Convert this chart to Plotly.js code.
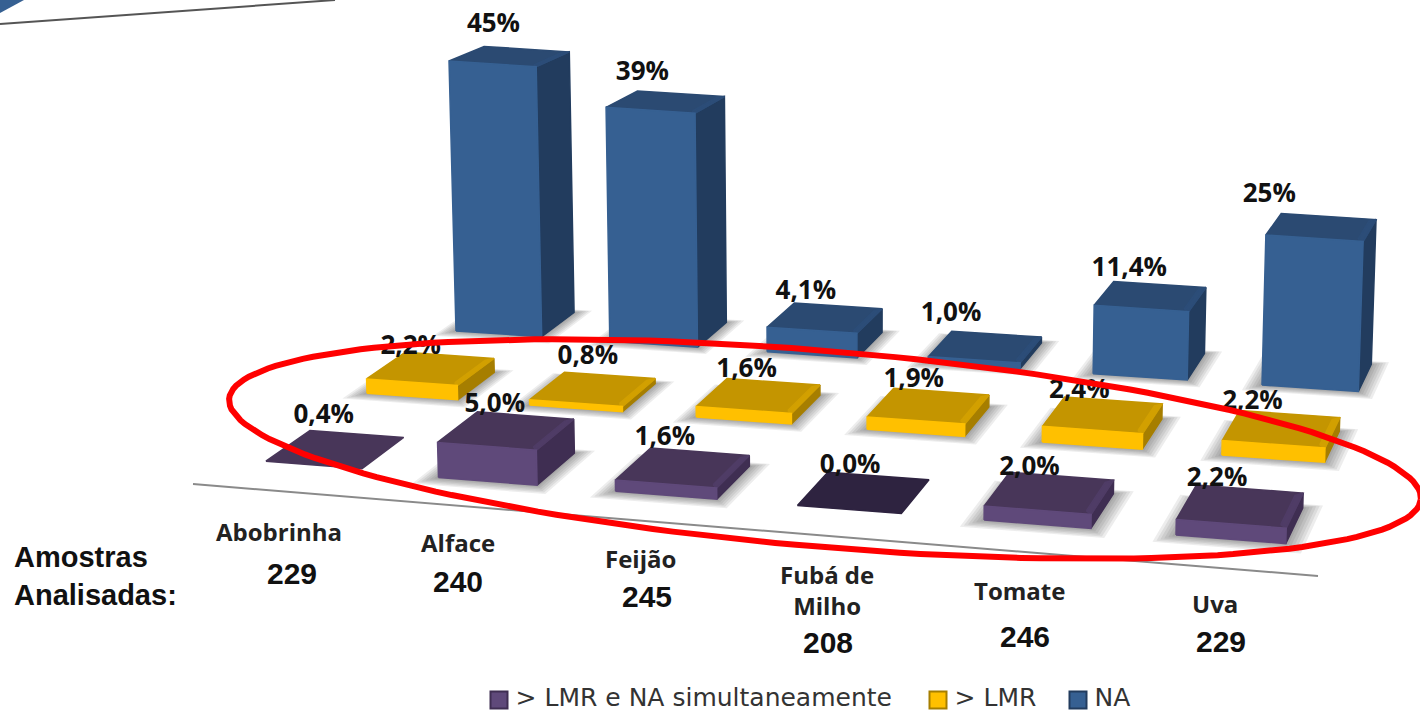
<!DOCTYPE html>
<html><head><meta charset="utf-8">
<script src="https://cdn.plot.ly/plotly-3.0.1.min.js"></script>
<style>html,body{margin:0;padding:0;background:#fff}</style></head>
<body><div id="chart" style="width:1420px;height:712px"></div>
<script>
// ---- data ----
const categories = ['Abobrinha','Alface','Feijão','Fubá de<br>Milho','Tomate','Uva'];
const samples = [229,240,245,208,246,229];
const seriesNames = ['> LMR e NA simultaneamente','> LMR','NA'];
const valuesBoth = [0.4,5.0,1.6,0.0,2.0,2.2];
const valuesLMR = [2.2,0.8,1.6,1.9,2.4,2.2];
const valuesNA = [45,39,4.1,1.0,11.4,25];

// ---- styles and layout ----
const styles = [
  {front:'#5F497A',top:'#483659',side:'#3F2E52',zero:'#2E2340',rim:'#4F3C66',swatch:'#5F497A'},
  {front:'#FFC000',top:'#C49500',side:'#A67E00',zero:'#C49500',rim:'#D2A000',swatch:'#FFC000'},
  {front:'#366092',top:'#2B4A72',side:'#223C5E',zero:'#2B4A72',rim:'#2C4D78',swatch:'#366092'}
];
const seriesValues = [valuesBoth,valuesLMR,valuesNA];
const ground = [[266,464],[1176,535],[1262,385],[456,331]]; // plane corners: col0/row0, col5/row0, col5/row2, col0/row2
const BAR_W = 0.56, BAR_D = 0.42;
const catLabelX = [279,458,640,827,1019,1215], catLabelY = [531,542,558,590,590,603];
const sampleX = [292,458,647,828,1025,1221], sampleY = [573,581,596,642,636,641];
const labelNudgeX = [[6,4,-5,-3,-12,-18],[-5,8,-1,-6,-17,-25],[-3,-12,-10,-27,-16,-49]];
const labelNudgeY = [[0,7,4,7,9,7],[9,-1,6,6,8,5],[-7,-3,4,-3,2,-4]];
const legendX = [499,938,1078], legendY = 700;

// ground-plane projection (unit square -> quad)
const H = (()=>{
  const [[x0,y0],[x1,y1],[x2,y2],[x3,y3]] = ground;
  const dx1=x1-x2,dx2=x3-x2,sx=x0-x1+x2-x3,dy1=y1-y2,dy2=y3-y2,sy=y0-y1+y2-y3;
  const den=dx1*dy2-dx2*dy1;
  const g=(sx*dy2-dx2*sy)/den,h=(dx1*sy-sx*dy1)/den;
  return {a:x1-x0+g*x1,b:x3-x0+h*x3,c:x0,d:y1-y0+g*y1,e:y3-y0+h*y3,f:y0,g,h};
})();
function project(u,v,val){
  const s=u/5,t=v/2,w=H.g*s+H.h*t+1;
  const x=(H.a*s+H.b*t+H.c)/w, y=(H.d*s+H.e*t+H.f)/w;
  const h=val*(7-0.5*v);
  return [x+(x-860)*h*6.4e-5, y-h];
}
function poly(store,pts){
  pts.concat([pts[0]]).forEach(p=>{store.x.push(p[0]);store.y.push(p[1]);});
  store.x.push(null);store.y.push(null);
}
function fillTrace(store,color){
  return {type:'scatter',mode:'lines',x:store.x,y:store.y,fill:'toself',fillcolor:color,
    line:{color:color,width:1.5},hoverinfo:'skip',showlegend:false};
}
const fmt = v => v>=20 ? v.toFixed(0)+'%' : v.toFixed(1).replace('.',',')+'%';

const traces=[];
// rows are drawn from the back to the front
[2,1,0].forEach(j=>{
  const vals=seriesValues[j], st=styles[j];
  // soft ground shadow
  [6,5,4,3,2,1].forEach(k=>{
    const s={x:[],y:[]};
    vals.forEach((val,i)=>{
      if(val<=0.5) return;
      const e=0.016*k;
      poly(s,[project(i-e,j-e,0),project(i+BAR_W+e,j-e,0),project(i+BAR_W+e,j+BAR_D+e*0.5,0),project(i-e,j+BAR_D+e*0.5,0)]);
    });
    traces.push({type:'scatter',mode:'lines',x:s.x,y:s.y,fill:'toself',fillcolor:'rgba(60,60,60,0.09)',
      line:{width:0,color:'rgba(0,0,0,0)'},hoverinfo:'skip',showlegend:false});
  });
  const front={x:[],y:[]},side={x:[],y:[]},top={x:[],y:[]},zero={x:[],y:[]},rim={x:[],y:[]};
  vals.forEach((val,i)=>{
    const fl=i,fr=i+BAR_W,n=j,b=j+BAR_D;
    poly(val>0?top:zero,[project(fl,n,val),project(fr,n,val),project(fr,b,val),project(fl,b,val)]);
    if(val>0.5){
      poly(front,[project(fl,n,0),project(fr,n,0),project(fr,n,val),project(fl,n,val)]);
      poly(side,[project(fr,n,0),project(fr,b,0),project(fr,b,val),project(fr,n,val)]);
      const r=0.035;
      poly(rim,[project(fr-r,n+r,val),project(fr,n,val),project(fr,b,val),project(fr-r,b-r,val)]);
    }
  });
  traces.push(fillTrace(side,st.side),fillTrace(top,st.top),fillTrace(rim,st.rim),fillTrace(front,st.front));
  if(zero.x.length) traces.push(fillTrace(zero,st.zero));
});
// value labels
[2,1,0].forEach(j=>{
  const vals=seriesValues[j];
  traces.push({type:'scatter',mode:'text',
    x:vals.map((v,i)=>project(i+BAR_W/2,j,v)[0]+4+labelNudgeX[j][i]),
    y:vals.map((v,i)=>project(i+BAR_W/2,j+BAR_D,v)[1]-4+labelNudgeY[j][i]),
    text:vals.map(fmt),textposition:'top center',
    textfont:{family:'Open Sans, sans-serif',size:26,color:'#111',weight:700},
    hoverinfo:'skip',showlegend:false});
});
// baseline
traces.unshift({type:'scatter',mode:'lines',x:[193,1318],y:[484,576],line:{color:'#8a8a8a',width:2},hoverinfo:'skip',showlegend:false});
// red highlight ellipse
const ell={cx:825,cy:449,a:598,b:98,phi:0.084},ex=[],ey=[];
for(let t=0;t<=360;t+=2){
  const r=t*Math.PI/180,c=Math.cos(r),s=Math.sin(r);
  ex.push(ell.cx+ell.a*c*Math.cos(ell.phi)-ell.b*s*Math.sin(ell.phi));
  ey.push(ell.cy+ell.a*c*Math.sin(ell.phi)+ell.b*s*Math.cos(ell.phi));
}
traces.push({type:'scatter',mode:'lines',x:ex,y:ey,line:{color:'#FF0000',width:6},hoverinfo:'skip',showlegend:false});
// legend entries
seriesNames.forEach((n,j)=>traces.push({type:'scatter',mode:'markers+text',x:[legendX[j]],y:[legendY],name:n,
  text:['\u2009'+n],textposition:'middle right',textfont:{family:'DejaVu Sans, sans-serif',size:25,color:'#333'},
  marker:{symbol:'square',size:17,color:styles[j].swatch,line:{color:styles[j].side,width:2}},showlegend:false}));

const annotations=[];
categories.forEach((c,i)=>{
  annotations.push({x:catLabelX[i],y:catLabelY[i],xref:'x',yref:'y',text:'<b>'+c+'</b>',showarrow:false,
    font:{family:'Open Sans, sans-serif',size:24,color:'#222'},align:'center'});
  annotations.push({x:sampleX[i],y:sampleY[i],xref:'x',yref:'y',text:'<b>'+samples[i]+'</b>',showarrow:false,
    font:{family:'Liberation Sans, Arial, sans-serif',size:30,color:'#111'}});
});
annotations.push({x:12,y:576,xref:'x',yref:'y',xanchor:'left',align:'left',showarrow:false,
  text:'<b>Amostras<br>Analisadas:</b>',font:{family:'Liberation Sans, Arial, sans-serif',size:29,color:'#111'}});

const layout={width:1420,height:712,margin:{l:0,r:0,t:0,b:0},paper_bgcolor:'#fff',plot_bgcolor:'#fff',
  xaxis:{range:[0,1420],visible:false,fixedrange:true},
  yaxis:{range:[712,0],visible:false,fixedrange:true},
  annotations,
  shapes:[
    {type:'line',xref:'x',yref:'y',x0:0,y0:24,x1:335,y1:0,line:{color:'#555',width:2}},
    {type:'path',xref:'x',yref:'y',path:'M0,0 L24,0 L0,13 Z',fillcolor:'#366092',line:{width:0}}
  ],
  showlegend:false,hovermode:false};
Plotly.newPlot('chart',traces,layout,{displayModeBar:false,staticPlot:true});
</script></body></html>
